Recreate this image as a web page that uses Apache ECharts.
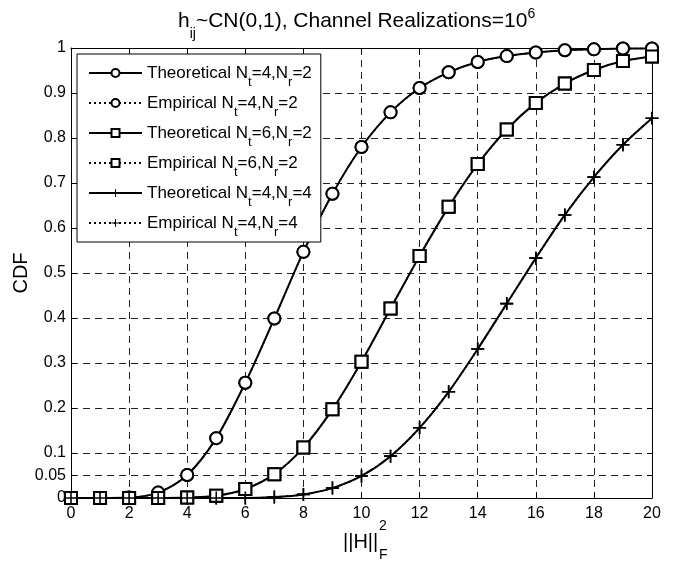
<!DOCTYPE html>
<html><head><meta charset="utf-8">
<script src="https://cdn.jsdelivr.net/npm/echarts@6/dist/echarts.min.js"></script>
<style>html,body{margin:0;padding:0;background:#fff}#c{width:684px;height:562px}</style>
</head><body><div id="c"></div>
<script>
var xValues = [0,1,2,3,4,5,6,7,8,9,10,11,12,13,14,15,16,17,18,19,20];
var theo42 = [0,0.000,0.001,0.012,0.051,0.133,0.256,0.399,0.547,0.676,0.780,0.857,0.911,0.946,0.969,0.982,0.990,0.995,0.997,0.999,0.999];
var emp42  = [0,0.000,0.001,0.012,0.051,0.133,0.256,0.399,0.547,0.676,0.780,0.857,0.911,0.946,0.969,0.982,0.990,0.995,0.997,0.999,0.999];
var theo62 = [0,0,0,0,0.001,0.005,0.020,0.053,0.112,0.197,0.303,0.421,0.538,0.647,0.742,0.819,0.878,0.921,0.951,0.971,0.981];
var emp62  = [0,0,0,0,0.001,0.005,0.020,0.053,0.112,0.197,0.303,0.421,0.538,0.647,0.742,0.819,0.878,0.921,0.951,0.971,0.981];
var theo44 = [0,0,0,0,0,0,0,0.002,0.008,0.022,0.049,0.093,0.156,0.236,0.331,0.432,0.533,0.629,0.713,0.785,0.844];
var emp44  = [0,0,0,0,0,0,0,0.002,0.008,0.022,0.049,0.093,0.156,0.236,0.331,0.432,0.533,0.629,0.713,0.785,0.844];
var yTicks = [0,0.05,0.1,0.2,0.3,0.4,0.5,0.6,0.7,0.8,0.9,1];
var yTickLabels = ['0','0.05','0.1','0.2','0.3','0.4','0.5','0.6','0.7','0.8','0.9','1'];
var seriesNames = ['Theoretical Nt=4,Nr=2','Empirical Nt=4,Nr=2','Theoretical Nt=6,Nr=2','Empirical Nt=6,Nr=2','Theoretical Nt=4,Nr=4','Empirical Nt=4,Nr=4'];
var legendParts = [['Theoretical','4','2'],['Empirical','4','2'],['Theoretical','6','2'],['Empirical','6','2'],['Theoretical','4','4'],['Empirical','4','4']];

var FONT = 'Liberation Sans';
var plusPath = 'path://M-1,-0.12L1,-0.12L1,0.12L-1,0.12Z M-0.12,-1L0.12,-1L0.12,1L-0.12,1Z';

function pairs(arr){ return xValues.map(function(x,i){return [x,arr[i]];}); }

function mk(name, data, dotted, symbol){
  var isPlus = symbol === plusPath;
  return {
    name: name, type: 'line', data: pairs(data),
    symbol: symbol, symbolSize: isPlus ? 13 : 12, symbolKeepAspect: true,
    showAllSymbol: true, smooth: 0.3, animation: false, z: dotted ? 3 : 2,
    lineStyle: {color: '#000', width: dotted ? 1.6 : 2, type: dotted ? [2,3] : 'solid'},
    itemStyle: isPlus ? {color: '#000', borderWidth: 0} : {color: '#fff', borderColor: '#000', borderWidth: 2}
  };
}

var legendMap = {};
seriesNames.forEach(function(n,i){
  var p = legendParts[i];
  legendMap[n] = '{b|' + p[0] + ' N}{s|t}{b|=' + p[1] + ',N}{s|r}{b|=' + p[2] + '}';
});

var chart = echarts.init(document.getElementById('c'));
var gridLine = {show: true, lineStyle: {color: '#222', width: 1, type: [7,5]}};
function txt(size, extra){ var o = {fontFamily: FONT, fontSize: size, fontWeight: 'normal', color: '#000'}; for (var k in extra) o[k] = extra[k]; return o; }
chart.setOption({
  backgroundColor: '#fff',
  animation: false,
  title: [
    {left: 173, top: -4,
     text: '{b|h}{s|ij}{b|~CN(0,1), Channel Realizations=10}{p|6}',
     textStyle: {fontWeight: 'normal', rich: {
       b: txt(21, {lineHeight: 40}),
       s: txt(14, {lineHeight: 14, verticalAlign: 'bottom'}),
       p: txt(14, {lineHeight: 14, padding: [6,0,0,0], verticalAlign: 'top'})
     }}},
    {left: 338, top: 527, text: '||H||', textStyle: txt(20, {lineHeight: 20})},
    {left: 374, top: 514, text: '2', textStyle: txt(14, {lineHeight: 14})},
    {left: 374, top: 543, text: 'F', textStyle: txt(14, {lineHeight: 14})}
  ],
  grid: {left: 71, right: 32, top: 48, bottom: 64, show: false, containLabel: false, outerBoundsMode: 'none'},
  legend: {
    orient: 'vertical', left: 77, top: 54, data: seriesNames,
    backgroundColor: '#fff', borderColor: '#000', borderWidth: 1,
    padding: [3, 9, 3, 11], itemGap: -2, itemWidth: 53, itemHeight: 10,
    formatter: function(n){ return legendMap[n]; },
    textStyle: {rich: {
      b: txt(17, {lineHeight: 30}),
      s: txt(13, {lineHeight: 13, padding: [19,0,0,0]})
    }},
    z: 10
  },
  xAxis: [
    {type: 'value', min: 0, max: 20, interval: 2, position: 'bottom',
     axisLine: {show: true, onZero: false, lineStyle: {color: '#000', width: 1}},
     axisTick: {show: true, inside: true, length: 5, lineStyle: {color: '#000'}},
     axisLabel: {fontFamily: FONT, fontSize: 16, color: '#000', margin: 8},
     splitLine: gridLine},
    {type: 'value', min: 0, max: 20, interval: 2, position: 'top',
     axisLine: {show: true, onZero: false, lineStyle: {color: '#000', width: 1}},
     axisTick: {show: true, inside: true, length: 5, lineStyle: {color: '#000'}},
     axisLabel: {show: false}, splitLine: {show: false}}
  ],
  yAxis: [
    {type: 'value', min: 0, max: 1, position: 'left',
     name: 'CDF', nameLocation: 'middle', nameRotate: 90, nameGap: 40, nameMoveOverlap: false,
     nameTextStyle: {fontFamily: FONT, fontSize: 20, color: '#000'},
     axisLine: {show: true, onZero: false, lineStyle: {color: '#000', width: 1}},
     axisTick: {show: true, inside: true, length: 5, customValues: yTicks, lineStyle: {color: '#000'}},
     axisLabel: {fontFamily: FONT, fontSize: 16, color: '#000', margin: 5, customValues: yTicks,
       formatter: function(v){ var i = yTicks.indexOf(v); return i >= 0 ? yTickLabels[i] : ''; }},
     splitLine: gridLine},
    {type: 'value', min: 0, max: 1, position: 'right',
     axisLine: {show: true, onZero: false, lineStyle: {color: '#000', width: 1}},
     axisTick: {show: true, inside: true, length: 5, customValues: yTicks, lineStyle: {color: '#000'}},
     axisLabel: {show: false, customValues: yTicks}, splitLine: {show: false}}
  ],
  series: [
    mk(seriesNames[0], theo42, false, 'circle'),
    mk(seriesNames[1], emp42, true, 'circle'),
    mk(seriesNames[2], theo62, false, 'rect'),
    mk(seriesNames[3], emp62, true, 'rect'),
    mk(seriesNames[4], theo44, false, plusPath),
    mk(seriesNames[5], emp44, true, plusPath)
  ]
});
</script></body></html>
